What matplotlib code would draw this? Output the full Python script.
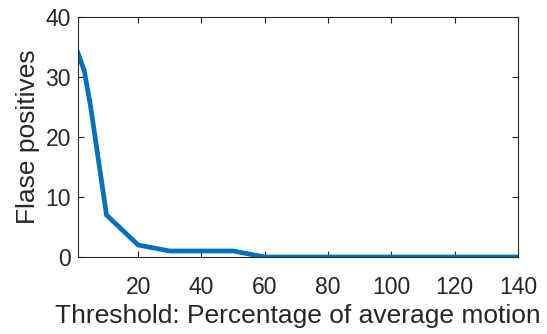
import matplotlib
matplotlib.use("Agg")
import matplotlib.pyplot as plt

thresholds = [1, 3, 5, 10, 20, 30, 40, 50, 60, 70, 80, 90, 100, 110, 120, 130, 140]
false_positives = [34, 31, 25, 7, 2, 1, 1, 1, 0, 0, 0, 0, 0, 0, 0, 0, 0]
xticks = [20, 40, 60, 80, 100, 120, 140]
yticks = [0, 10, 20, 30, 40]

plt.rcParams['font.family'] = ['Liberation Sans', 'DejaVu Sans']
fig = plt.figure(figsize=(5.47, 3.34), dpi=100)
ax = fig.add_axes([78/547, 77/334, 440/547, 240/334])
ax.plot(thresholds, false_positives, color='#0072BD', linewidth=3.4, solid_joinstyle='miter')
ax.set_xlim(1, 140)
ax.set_ylim(0, 40)
ax.set_xticks(xticks)
ax.set_yticks(yticks)
for s in ax.spines.values():
    s.set_color('#262626')
    s.set_linewidth(0.8)
ax.tick_params(direction='in', top=True, right=True, labelsize=16.5, colors='#262626', length=4, width=0.8)
ax.tick_params(axis='x', pad=14)
ax.tick_params(axis='y', pad=5)
ax.set_xlabel('Threshold: Percentage of average motion', fontsize=19, color='#262626', labelpad=3)
ax.set_ylabel('Flase positives', fontsize=19, color='#262626', labelpad=4)
fig.savefig('out.png', dpi=100)
